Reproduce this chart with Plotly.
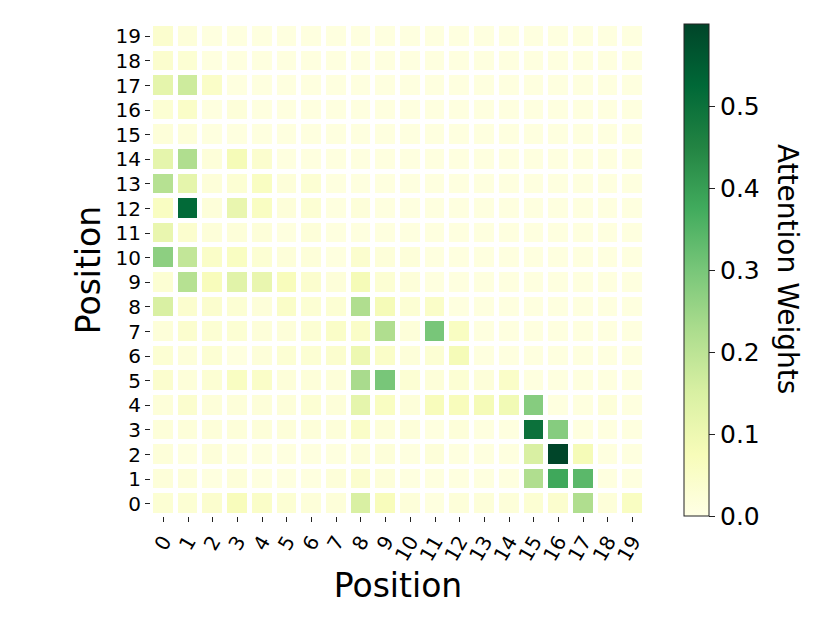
import plotly.graph_objects as go

positions = list(range(20))
tick_labels = [str(i) for i in positions]

# Attention weights, row index = query position (0 at bottom), column = key position
row_0  = [0.03, 0.03, 0.04, 0.07, 0.05, 0.03, 0.02, 0.02, 0.15, 0.07, 0.02, 0.01, 0.02, 0.02, 0.02, 0.03, 0.04, 0.22, 0.02, 0.06]
row_1  = [0.02, 0.02, 0.01, 0.02, 0.01, 0.01, 0.01, 0.02, 0.04, 0.02, 0.01, 0.01, 0.01, 0.01, 0.01, 0.22, 0.38, 0.34, 0.01, 0.01]
row_2  = [0.02, 0.01, 0.02, 0.01, 0.01, 0.01, 0.01, 0.01, 0.02, 0.02, 0.01, 0.02, 0.01, 0.01, 0.01, 0.15, 0.60, 0.08, 0.01, 0.01]
row_3  = [0.02, 0.02, 0.02, 0.02, 0.02, 0.02, 0.02, 0.02, 0.05, 0.02, 0.02, 0.01, 0.02, 0.01, 0.01, 0.50, 0.28, 0.01, 0.01, 0.01]
row_4  = [0.02, 0.04, 0.02, 0.02, 0.02, 0.02, 0.03, 0.02, 0.12, 0.06, 0.02, 0.07, 0.07, 0.08, 0.09, 0.28, 0.01, 0.01, 0.02, 0.01]
row_5  = [0.04, 0.02, 0.03, 0.06, 0.05, 0.02, 0.02, 0.02, 0.23, 0.30, 0.03, 0.02, 0.03, 0.02, 0.05, 0.01, 0.01, 0.01, 0.01, 0.01]
row_6  = [0.03, 0.02, 0.03, 0.01, 0.02, 0.03, 0.03, 0.04, 0.10, 0.05, 0.02, 0.03, 0.08, 0.01, 0.01, 0.01, 0.01, 0.01, 0.01, 0.01]
row_7  = [0.02, 0.04, 0.03, 0.03, 0.02, 0.02, 0.03, 0.05, 0.05, 0.22, 0.02, 0.30, 0.06, 0.01, 0.01, 0.01, 0.01, 0.01, 0.01, 0.01]
row_8  = [0.15, 0.04, 0.04, 0.03, 0.02, 0.05, 0.03, 0.03, 0.22, 0.08, 0.03, 0.05, 0.01, 0.01, 0.01, 0.01, 0.01, 0.01, 0.01, 0.01]
row_9  = [0.03, 0.21, 0.07, 0.13, 0.11, 0.07, 0.04, 0.02, 0.08, 0.03, 0.02, 0.01, 0.01, 0.01, 0.01, 0.01, 0.01, 0.01, 0.01, 0.01]
row_10 = [0.27, 0.19, 0.05, 0.06, 0.03, 0.02, 0.02, 0.01, 0.04, 0.02, 0.02, 0.01, 0.01, 0.01, 0.01, 0.01, 0.01, 0.01, 0.01, 0.01]
row_11 = [0.11, 0.04, 0.02, 0.02, 0.02, 0.01, 0.02, 0.01, 0.01, 0.01, 0.01, 0.01, 0.01, 0.01, 0.01, 0.01, 0.01, 0.01, 0.01, 0.01]
row_12 = [0.06, 0.52, 0.02, 0.11, 0.06, 0.02, 0.03, 0.01, 0.02, 0.01, 0.01, 0.01, 0.01, 0.01, 0.01, 0.01, 0.01, 0.01, 0.01, 0.01]
row_13 = [0.21, 0.12, 0.02, 0.03, 0.06, 0.02, 0.03, 0.01, 0.01, 0.01, 0.01, 0.01, 0.01, 0.01, 0.01, 0.01, 0.01, 0.01, 0.01, 0.01]
row_14 = [0.12, 0.22, 0.02, 0.08, 0.04, 0.01, 0.01, 0.01, 0.01, 0.01, 0.01, 0.01, 0.01, 0.01, 0.01, 0.01, 0.01, 0.01, 0.01, 0.01]
row_15 = [0.02, 0.02, 0.01, 0.01, 0.01, 0.01, 0.01, 0.01, 0.01, 0.01, 0.01, 0.01, 0.01, 0.01, 0.01, 0.01, 0.01, 0.01, 0.01, 0.01]
row_16 = [0.03, 0.05, 0.01, 0.02, 0.01, 0.01, 0.01, 0.01, 0.01, 0.01, 0.01, 0.01, 0.01, 0.01, 0.01, 0.01, 0.01, 0.01, 0.01, 0.01]
row_17 = [0.12, 0.17, 0.05, 0.01, 0.01, 0.01, 0.01, 0.01, 0.01, 0.01, 0.01, 0.01, 0.01, 0.01, 0.01, 0.01, 0.01, 0.01, 0.01, 0.01]
row_18 = [0.04, 0.03, 0.01, 0.01, 0.01, 0.01, 0.01, 0.01, 0.01, 0.01, 0.01, 0.01, 0.01, 0.01, 0.01, 0.01, 0.01, 0.01, 0.01, 0.01]
row_19 = [0.04, 0.02, 0.01, 0.01, 0.01, 0.01, 0.01, 0.01, 0.01, 0.01, 0.01, 0.01, 0.01, 0.01, 0.01, 0.01, 0.01, 0.01, 0.01, 0.01]

weights = [row_0, row_1, row_2, row_3, row_4, row_5, row_6, row_7, row_8, row_9,
           row_10, row_11, row_12, row_13, row_14, row_15, row_16, row_17, row_18, row_19]

cbar_ticks = [0.0, 0.1, 0.2, 0.3, 0.4, 0.5]

ylgn = [[0.0, "#ffffe5"], [0.125, "#f7fcb9"], [0.25, "#d9f0a3"], [0.375, "#addd8e"],
        [0.5, "#78c679"], [0.625, "#41ab5d"], [0.75, "#238443"], [0.875, "#006837"],
        [1.0, "#004529"]]

FONT = "DejaVu Sans"
PLOT_W = 494
PLOT_H = 492

fig = go.Figure(go.Heatmap(
    z=weights, x=positions, y=positions,
    colorscale=ylgn, zmin=0, zmax=0.6,
    xgap=5, ygap=5,
    colorbar=dict(
        x=(684 - 151) / PLOT_W, xanchor="left", xpad=0,
        y=0.5, yanchor="middle", len=1, lenmode="fraction", ypad=0,
        thickness=25, thicknessmode="pixels",
        outlinewidth=1, outlinecolor="#222",
        tickvals=cbar_ticks, ticktext=[f"{v:.1f}" for v in cbar_ticks],
        ticks="outside", ticklen=6, tickcolor="#222",
        tickfont=dict(family=FONT, size=25, color="black"),
    ),
))

fig.add_annotation(
    text="Attention Weights", textangle=90,
    xref="paper", yref="paper",
    x=(788 - 151) / PLOT_W, y=(516 - 269) / PLOT_H,
    xanchor="center", yanchor="middle", showarrow=False,
    font=dict(family=FONT, size=28, color="black"),
)

fig.update_layout(
    width=830, height=623,
    margin=dict(l=143, r=193, t=16, b=115),
    paper_bgcolor="white", plot_bgcolor="white",
    font=dict(family=FONT, color="black"),
    xaxis=dict(
        range=[-0.5, 19.5], tickvals=positions, ticktext=tick_labels,
        tickangle=-60, ticks="outside", ticklen=5, tickcolor="#222",
        tickfont=dict(family=FONT, size=20), showgrid=False, zeroline=False,
        showline=False,
        title=dict(text="Position", font=dict(family=FONT, size=33), standoff=6),
    ),
    yaxis=dict(
        range=[-0.5, 19.5], tickvals=positions, ticktext=tick_labels,
        ticks="outside", ticklen=5, tickcolor="#222",
        tickfont=dict(family=FONT, size=20), showgrid=False, zeroline=False,
        showline=False,
        title=dict(text="Position", font=dict(family=FONT, size=33), standoff=4),
    ),
)

fig.write_html("out.html")
